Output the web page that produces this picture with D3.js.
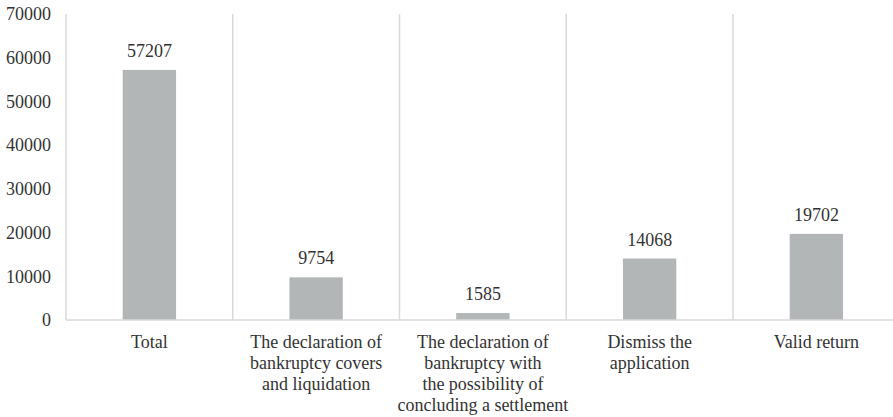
<!DOCTYPE html>
<html>
<head>
<meta charset="utf-8">
<script src="https://cdn.jsdelivr.net/npm/d3@7"></script>
<style>
  body { margin: 0; background: #fff; }
</style>
</head>
<body>
<svg id="chart"></svg>
<script>
var categories = [
  ["Total"],
  ["The declaration of", "bankruptcy covers", "and liquidation"],
  ["The declaration of", "bankruptcy with", "the possibility of", "concluding a settlement"],
  ["Dismiss the", "application"],
  ["Valid return"]
];
var values = [57207, 9754, 1585, 14068, 19702];
var yTicks = [0, 10000, 20000, 30000, 40000, 50000, 60000, 70000];

(function () {
  var svgW = 893, svgH = 417;
  var plotLeft = 66, plotTop = 14, plotBottom = 320;
  var step = 166.75; // width of one category
  var fontSize = 18;
  var textColor = "#333333";

  var svg = d3.select("#chart").attr("width", svgW).attr("height", svgH)
    .style("font-family", "'Liberation Serif', 'Times New Roman', serif");

  var x = d3.scaleBand()
    .domain(d3.range(values.length))
    .range([plotLeft, plotLeft + step * values.length])
    .paddingInner(0.68).paddingOuter(0.34);

  var y = d3.scaleLinear().domain([0, 70000]).range([plotBottom, plotTop]);

  // category separators
  var edges = d3.range(values.length + 1).map(function (i) { return plotLeft + i * step; });
  svg.selectAll("line.sep").data(edges).enter().append("line")
    .attr("class", "sep")
    .attr("x1", function (d) { return d; }).attr("x2", function (d) { return d; })
    .attr("y1", y(70000)).attr("y2", y(0))
    .attr("stroke", "#d9d9d9").attr("stroke-width", 1.5);

  // bars
  svg.selectAll("rect.bar").data(values).enter().append("rect")
    .attr("class", "bar")
    .attr("x", function (d, i) { return x(i); })
    .attr("width", x.bandwidth())
    .attr("y", function (d) { return y(d); })
    .attr("height", function (d) { return y(0) - y(d); })
    .attr("fill", "#b3b6b7");

  // x axis line
  svg.append("line")
    .attr("x1", plotLeft).attr("x2", svgW)
    .attr("y1", y(0)).attr("y2", y(0))
    .attr("stroke", "#d9d9d9").attr("stroke-width", 1.5);

  // value labels
  svg.selectAll("text.val").data(values).enter().append("text")
    .attr("class", "val")
    .attr("x", function (d, i) { return x(i) + x.bandwidth() / 2; })
    .attr("y", function (d) { return y(d) - 13; })
    .attr("text-anchor", "middle")
    .attr("font-size", fontSize)
    .attr("fill", textColor)
    .text(function (d) { return d; });

  // y tick labels
  svg.selectAll("text.ytick").data(yTicks).enter().append("text")
    .attr("class", "ytick")
    .attr("x", 51)
    .attr("y", function (d) { return y(d); })
    .attr("dy", "0.35em")
    .attr("text-anchor", "end")
    .attr("font-size", fontSize)
    .attr("fill", textColor)
    .text(function (d) { return d; });

  // category labels
  var catLabels = svg.selectAll("text.cat").data(categories).enter().append("text")
    .attr("class", "cat")
    .attr("text-anchor", "middle")
    .attr("font-size", fontSize)
    .attr("fill", textColor)
    .attr("transform", function (d, i) {
      return "translate(" + (x(i) + x.bandwidth() / 2) + "," + (y(0) + 28) + ")";
    });
  catLabels.selectAll("tspan").data(function (d) { return d; }).enter().append("tspan")
    .attr("x", 0)
    .attr("y", function (d, j) { return j * 21; })
    .text(function (d) { return d; });
})();
</script>
</body>
</html>
